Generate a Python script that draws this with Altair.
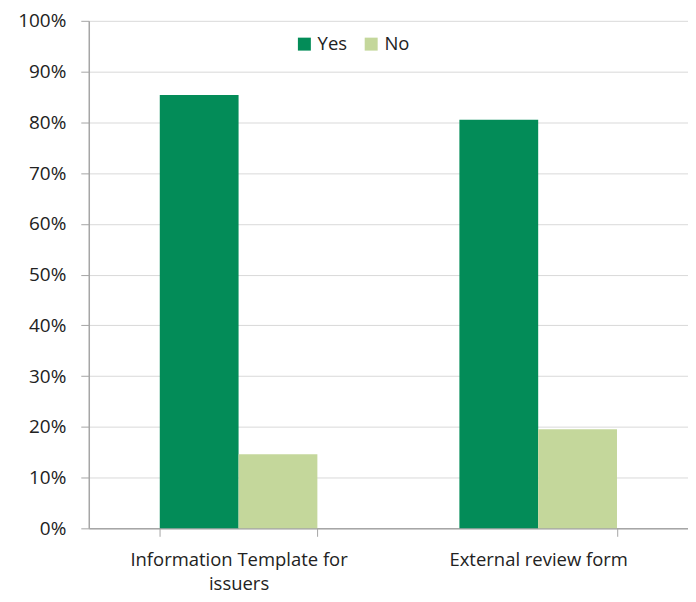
import altair as alt
import pandas as pd

categories = ["Information Template for issuers", "External review form"]
answers = ["Yes", "No"]
yes_values = [0.854, 0.805]
no_values = [0.146, 0.195]

rows = []
for c, y, n in zip(categories, yes_values, no_values):
    rows.append({"category": c, "answer": "Yes", "share": y})
    rows.append({"category": c, "answer": "No", "share": n})
df = pd.DataFrame(rows)

FONT = "Open Sans"
label_expr = ("datum.value == 'Information Template for issuers' ? "
              "['Information Template for', 'issuers'] : datum.value")

chart = alt.Chart(df).mark_bar().encode(
    x=alt.X("category:N", sort=categories, title=None,
            scale=alt.Scale(paddingInner=0.474, paddingOuter=0.237),
            axis=alt.Axis(labelAngle=0, labelExpr=label_expr, tickBand="extent",
                          tickSize=8, tickColor="#a6a6a6", domainColor="#a6a6a6",
                          labelPadding=14, labelFontSize=18.5, labelFont=FONT,
                          labelColor="#222222", labelLineHeight=24, labelLimit=0,
                          grid=False)),
    xOffset=alt.XOffset("answer:N", sort=answers,
                        scale=alt.Scale(paddingInner=0, paddingOuter=0)),
    y=alt.Y("share:Q", title=None,
            scale=alt.Scale(domain=[0, 1], nice=False),
            axis=alt.Axis(format=".0%", values=[i / 10 for i in range(11)],
                          tickSize=8, tickColor="#a6a6a6", domainColor="#a6a6a6",
                          gridColor="#d9d9d9", labelPadding=15, labelFontSize=19,
                          labelFont=FONT, labelColor="#222222")),
    color=alt.Color("answer:N", sort=answers,
                    scale=alt.Scale(domain=answers, range=["#038C58", "#C4D79B"]),
                    legend=alt.Legend(title=None, orient="none", direction="horizontal",
                                      legendX=207, legendY=14, symbolType="square",
                                      symbolSize=169, symbolStrokeWidth=0,
                                      labelFontSize=18.5, labelFont=FONT,
                                      labelColor="#222222", labelOffset=4,
                                      columnPadding=14)),
).properties(
    width=601, height=509,
    autosize=alt.AutoSizeParams(type="none"),
    padding={"left": 81, "top": 12, "right": 0, "bottom": 65},
).configure_view(stroke=None).configure_axis(domainWidth=1.5)

chart.save("out.html", embed_options={"renderer": "svg", "actions": False})
